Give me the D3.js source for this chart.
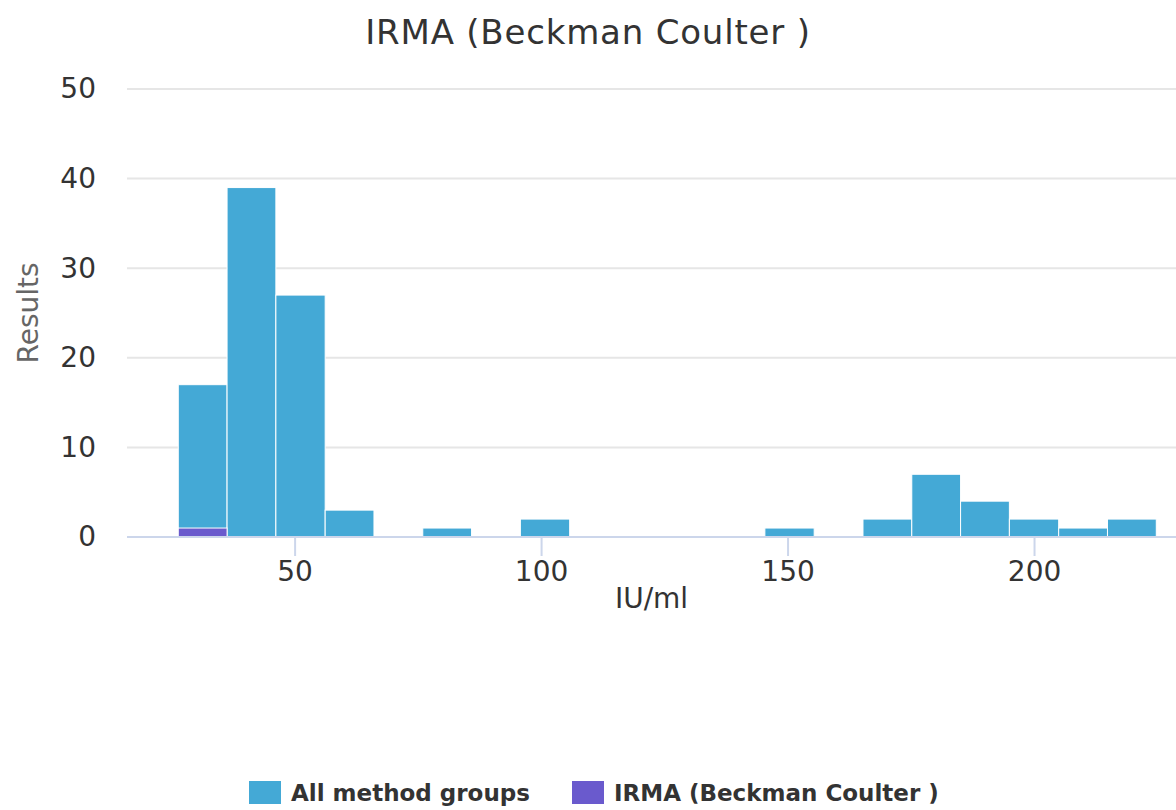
<!DOCTYPE html>
<html>
<head>
<meta charset="utf-8">
<script src="https://cdn.jsdelivr.net/npm/d3@7"></script>
<style>
  body { margin: 0; background: #fff; }
  text { font-family: "DejaVu Sans", sans-serif; }
</style>
</head>
<body>
<div id="chart"></div>
<script>
// histogram bins (IU/ml), lower edges plus the last upper edge
var binEdges = [26.4, 36.3, 46.2, 56.2, 66.1, 76.0, 85.9, 95.8, 105.8, 115.7, 125.6,
  135.5, 145.4, 155.4, 165.3, 175.2, 185.1, 195.0, 205.0, 214.9, 224.8];
var allCounts = [17, 39, 27, 3, 0, 1, 0, 2, 0, 0, 0, 0, 1, 0, 2, 7, 4, 2, 1, 2];
var irmaCounts = [1, 0, 0, 0, 0, 0, 0, 0, 0, 0, 0, 0, 0, 0, 0, 0, 0, 0, 0, 0];
var xTicks = [50, 100, 150, 200];
var yTicks = [0, 10, 20, 30, 40, 50];
var seriesNames = ["All method groups", "IRMA (Beckman Coulter )"];
var colors = ["#44a9d6", "#6a5acd"];

var svgWidth = 1176;
var svgHeight = 810;

var margin = { top: 89, right: 0, bottom: 273, left: 127 };
var width = svgWidth - margin.left - margin.right;
var height = svgHeight - margin.top - margin.bottom;

var svg = d3.select("#chart")
  .append("svg")
  .attr("width", svgWidth)
  .attr("height", svgHeight);

var chartGroup = svg.append("g")
  .attr("transform", `translate(${margin.left}, ${margin.top})`);

var xScale = d3.scaleLinear()
  .domain([16, 228.8])
  .range([0, width]);

var yScale = d3.scaleLinear()
  .domain([0, 50])
  .range([height, 0]);

// gridlines
chartGroup.selectAll(".grid")
  .data(yTicks.filter(d => d > 0))
  .enter()
  .append("line")
  .attr("x1", 0)
  .attr("x2", width)
  .attr("y1", d => yScale(d))
  .attr("y2", d => yScale(d))
  .attr("stroke", "#e6e6e6")
  .attr("stroke-width", 2);

// y axis labels
var yAxis = d3.axisLeft(yScale).tickValues(yTicks).tickSize(0).tickPadding(31);
var yG = chartGroup.append("g").call(yAxis);
yG.select(".domain").remove();
yG.selectAll("text")
  .attr("fill", "#333")
  .style("font-size", "28px");

// bars
function bars(counts, color, cls) {
  var data = counts.map((c, i) => ({ x0: binEdges[i], x1: binEdges[i + 1], n: c }))
    .filter(d => d.n > 0);
  chartGroup.selectAll("." + cls)
    .data(data)
    .enter()
    .append("rect")
    .attr("class", cls)
    .attr("x", d => xScale(d.x0))
    .attr("width", d => xScale(d.x1) - xScale(d.x0))
    .attr("y", d => yScale(d.n))
    .attr("height", d => yScale(0) - yScale(d.n))
    .attr("fill", color)
    .attr("stroke", "#ffffff")
    .attr("stroke-width", 1);
}
bars(allCounts, colors[0], "allBar");
bars(irmaCounts, colors[1], "irmaBar");

// x axis
var xAxis = d3.axisBottom(xScale).tickValues(xTicks).tickSize(19).tickPadding(5);
var xG = chartGroup.append("g")
  .attr("transform", `translate(0, ${height})`)
  .call(xAxis);
xG.select(".domain").attr("stroke", "#ccd6eb").attr("stroke-width", 2)
  .attr("d", `M0,0H${width}`);
xG.selectAll(".tick line").attr("stroke", "#ccd6eb").attr("stroke-width", 2);
xG.selectAll("text")
  .attr("fill", "#333")
  .style("font-size", "28px");

// axis titles
chartGroup.append("text")
  .attr("x", width / 2)
  .attr("y", height + 71)
  .attr("text-anchor", "middle")
  .attr("fill", "#333")
  .style("font-size", "28px")
  .text("IU/ml");

chartGroup.append("text")
  .attr("transform", "rotate(-90)")
  .attr("x", -height / 2)
  .attr("y", -89)
  .attr("text-anchor", "middle")
  .attr("fill", "#666")
  .style("font-size", "28px")
  .text("Results");

// title
svg.append("text")
  .attr("x", svgWidth / 2)
  .attr("y", 44)
  .attr("text-anchor", "middle")
  .attr("fill", "#333")
  .style("font-size", "34px")
  .style("letter-spacing", "0.8px")
  .text("IRMA (Beckman Coulter )");

// legend
var legendX = [249, 572];
var legend = svg.selectAll(".legend")
  .data(seriesNames)
  .enter()
  .append("g")
  .attr("transform", (d, i) => `translate(${legendX[i]}, 781)`);
legend.append("rect")
  .attr("width", 32)
  .attr("height", 23)
  .attr("fill", (d, i) => colors[i]);
legend.append("text")
  .attr("x", 42)
  .attr("y", 20)
  .attr("fill", "#333")
  .style("font-size", "23px")
  .style("font-weight", "bold")
  .text(d => d);
</script>
</body>
</html>
